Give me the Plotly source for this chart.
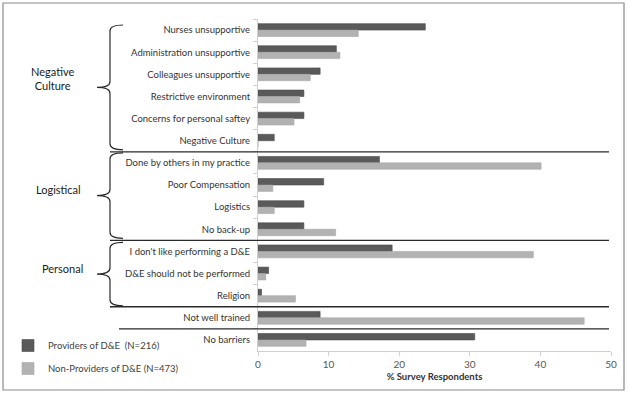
import plotly.graph_objects as go

categories = [
    "Nurses unsupportive", "Administration unsupportive", "Colleagues unsupportive",
    "Restrictive environment", "Concerns for personal saftey", "Negative Culture",
    "Done by others in my practice", "Poor Compensation", "Logistics", "No back-up",
    "I don't like performing a D&E", "D&E should not be performed", "Religion",
    "Not well trained", "No barriers",
]
providers = [23.7, 11.1, 8.8, 6.5, 6.5, 2.3, 17.2, 9.3, 6.5, 6.5, 19.0, 1.5, 0.5, 8.8, 30.7]
non_providers = [14.2, 11.6, 7.4, 5.9, 5.1, 0.0, 40.1, 2.1, 2.3, 11.0, 39.0, 1.1, 5.3, 46.2, 6.8]
x_ticks = [0, 10, 20, 30, 40, 50]
groups = [("Negative<br>Culture", 0, 5), ("Logistical", 6, 9), ("Personal", 10, 12)]
separators_after = [5, 9, 12, 13]

FONT = "Lato"
W_PX, H_PX = 628, 393
L, R, T, B = 258, 611, 19, 351
PW, PH = R - L, B - T
N = len(categories)

def px(x):
    return (x - L) / PW

def py(y):
    return 1 - (y - T) / PH

def yb(k):
    return T + k * PH / N

fig = go.Figure()
fig.add_trace(go.Bar(
    y=categories, x=providers, orientation="h", name="Providers of D&E  (N=216)",
    marker=dict(color="#5a5a5a", line=dict(color="#4a4a4a", width=0.6)),
    legendgroup="a",
))
fig.add_trace(go.Bar(
    y=categories, x=non_providers, orientation="h", name="Non-Providers of D&E (N=473)",
    marker=dict(color="#b2b2b2", line=dict(color="#a8a8a8", width=0.6)),
    legendgroup="b",
))

shapes = []
# outer border
shapes.append(dict(type="rect", xref="paper", yref="paper",
                   x0=px(3), x1=px(624), y0=py(3), y1=py(390),
                   line=dict(color="#8c8c8c", width=1.2), fillcolor="rgba(0,0,0,0)", layer="below"))
# separators
for k in separators_after:
    y = yb(k + 1)
    x0 = 119 if k == 13 else 110
    shapes.append(dict(type="line", xref="paper", yref="paper",
                       x0=px(x0), x1=px(609), y0=py(y), y1=py(y),
                       line=dict(color="#2a2a2a", width=1.3)))
# braces
annotations = []
label_x = {"Negative<br>Culture": 52, "Logistical": 58, "Personal": 62}
insets = {0: (6, 2), 6: (1, 2), 10: (2, 1)}
for name, a, b in groups:
    top_in, bot_in = insets[a]
    y0 = yb(a) + top_in
    y1 = yb(b + 1) - bot_in
    ym = (y0 + y1) / 2
    xr, xv, xt = 123, 110, 97
    pts = [
        f"M {px(xr)},{py(y0)}",
        f"Q {px(xv)},{py(y0)} {px(xv)},{py(y0 + 6)}",
        f"L {px(xv)},{py(ym - 6)}",
        f"Q {px(xv)},{py(ym)} {px(xt)},{py(ym)}",
        f"Q {px(xv)},{py(ym)} {px(xv)},{py(ym + 6)}",
        f"L {px(xv)},{py(y1 - 6)}",
        f"Q {px(xv)},{py(y1)} {px(xr)},{py(y1)}",
    ]
    shapes.append(dict(type="path", xref="paper", yref="paper", path=" ".join(pts),
                       line=dict(color="#2a2a2a", width=1.2)))
    annotations.append(dict(text=name, xref="paper", yref="paper",
                            x=px(label_x[name]), y=py(ym - 9 if a == 0 else ym - 6),
                            showarrow=False, xanchor="center", yanchor="middle",
                            font=dict(family=FONT, size=11, color="#1a1a1a")))

fig.update_layout(
    width=W_PX, height=H_PX,
    margin=dict(l=L, r=W_PX - R, t=T, b=H_PX - B, pad=0, autoexpand=False),
    paper_bgcolor="white", plot_bgcolor="white",
    barmode="group", bargap=0.42, bargroupgap=0,
    font=dict(family=FONT, size=9.5, color="#404040"),
    shapes=shapes, annotations=annotations,
    legend=dict(x=px(8), y=py(331), xanchor="left", yanchor="top",
                font=dict(family=FONT, size=9.5, color="#404040"),
                tracegroupgap=4, itemwidth=30, bgcolor="rgba(0,0,0,0)"),
    xaxis=dict(range=[0, 50], tickvals=x_ticks, showgrid=False, zeroline=False,
               showline=True, linecolor="#d0d0d0", linewidth=1,
               ticks="outside", ticklen=4, tickcolor="#d0d0d0",
               ticklabelstandoff=0, automargin=False,
               tickfont=dict(family=FONT, size=10, color="#555555"),
               title=dict(text="<b>% Survey Respondents</b>", standoff=4,
                          font=dict(family=FONT, size=9.5, color="#333333"))),
    yaxis=dict(categoryorder="array", categoryarray=categories,
               range=[N - 0.5, -0.5], showgrid=False, zeroline=False,
               showline=True, linecolor="#d0d0d0", linewidth=1,
               ticks="outside", ticklen=4, tickcolor="#d0d0d0", tickson="boundaries",
               ticklabelstandoff=5, automargin=False,
               tickfont=dict(family=FONT, size=9.5, color="#333333")),
)

fig.write_html(
    "out.html",
    config={"displayModeBar": False},
    post_script="document.body.style.margin='0';document.body.style.overflow='hidden';",
)
